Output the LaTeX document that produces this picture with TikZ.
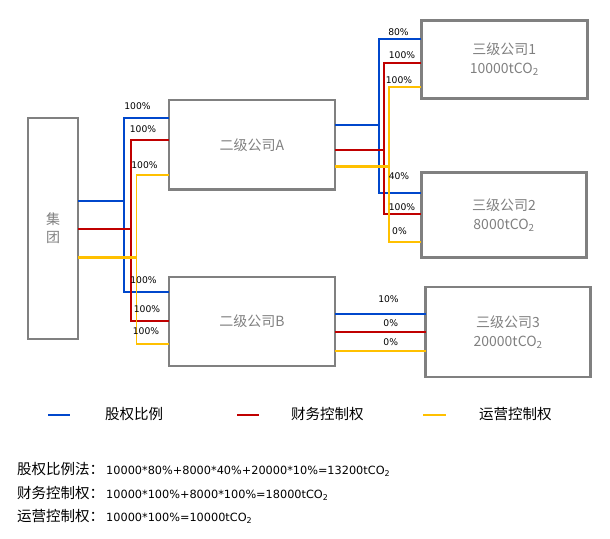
\documentclass[tikz,border=0pt]{standalone}
\usepackage{fontspec}
\setmainfont{DejaVu Sans}
\newfontfamily\cjk{Noto Sans CJK SC}
\definecolor{cb}{HTML}{0047CC}
\definecolor{cr}{HTML}{C00000}
\definecolor{cy}{HTML}{FFC000}
\definecolor{bgray}{HTML}{808080}
\begin{document}
\begin{tikzpicture}[x=1pt,y=-1pt,
  box/.style={draw=bgray, line width=2.7pt, inner sep=0pt, outer sep=0pt, anchor=north west,
              text=bgray, align=center, font=\cjk\fontsize{14}{19}\selectfont},
  bl/.style={draw=cb, line width=1.6pt},
  rd/.style={draw=cr, line width=1.6pt},
  yl/.style={draw=cy, line width=1.6pt},
  ylt/.style={draw=cy, line width=3pt},
  lab/.style={font=\fontsize{9.2}{10}\selectfont, inner sep=0pt, text=black},
  lgtext/.style={font=\cjk\fontsize{14.5}{16}\selectfont, inner sep=0pt, anchor=west, text=black},
  formula/.style={font=\fontsize{11.3}{13}\selectfont, inner sep=0pt, anchor=west, text=black}]
\useasboundingbox (0,0) rectangle (610,538);

% boxes
\node[box, minimum width=50pt, minimum height=221pt, font=\cjk\fontsize{14}{18}\selectfont] (jt) at (28,118) {集\\团};
\node[box, minimum width=166pt, minimum height=89.5pt] (A) at (169,100) {二级公司A};
\node[box, minimum width=166pt, minimum height=89pt] (B) at (169,277) {二级公司B};
\node[box, minimum width=166pt, minimum height=78pt] (C1) at (421.3,20.3) {三级公司1\\10000tCO\textsubscript{2}};
\node[box, minimum width=165.5pt, minimum height=85.5pt] (C2) at (421.3,172.3) {三级公司2\\8000tCO\textsubscript{2}};
\node[box, minimum width=165pt, minimum height=90pt] (C3) at (425.6,287) {三级公司3\\20000tCO\textsubscript{2}};

% trunk coordinates
\coordinate (tb) at (124,201);   \coordinate (tbA) at (124,118); \coordinate (tbB) at (124,292);
\coordinate (tr) at (131,229);   \coordinate (trA) at (131,140); \coordinate (trB) at (131,321);
\coordinate (ty) at (136.5,257); \coordinate (tyA) at (136.5,175); \coordinate (tyB) at (136.5,344);
\coordinate (ab) at (379,125);   \coordinate (abA) at (379,39);  \coordinate (abB) at (379,193);
\coordinate (ar) at (384,150);   \coordinate (arA) at (384,63);  \coordinate (arB) at (384,214);
\coordinate (ay) at (389,166);   \coordinate (ayA) at (389,87);  \coordinate (ayB) at (389,242);
\coordinate (cb3) at (380,314);  \coordinate (cr3) at (380,332); \coordinate (cy3) at (380,351);

% group -> A, B
\draw[bl] (jt.east |- tb) -- (tb);
\draw[bl] (A.west |- tbA) -- (tbA) -- (tbB) -- (B.west |- tbB);
\draw[rd] (jt.east |- tr) -- (tr);
\draw[rd] (A.west |- trA) -- (trA) -- (trB) -- (B.west |- trB);
\draw[ylt] (jt.east |- ty) -- (ty);
\draw[yl] (A.west |- tyA) -- (tyA) -- (tyB) -- (B.west |- tyB);

% A -> C1, C2
\draw[bl] (A.east |- ab) -- (ab);
\draw[bl] (C1.west |- abA) -- (abA) -- (abB) -- (C2.west |- abB);
\draw[rd] (A.east |- ar) -- (ar);
\draw[rd] (C1.west |- arA) -- (arA) -- (arB) -- (C2.west |- arB);
\draw[ylt] (A.east |- ay) -- (ay);
\draw[yl] (C1.west |- ayA) -- (ayA) -- (ayB) -- (C2.west |- ayB);

% B -> C3
\draw[bl] (B.east |- cb3) -- (C3.west |- cb3);
\draw[rd] (B.east |- cr3) -- (C3.west |- cr3);
\draw[yl] (B.east |- cy3) -- (C3.west |- cy3);

% labels
\node[lab] (l1) at (137.5,106) {100\%};
\node[lab] (l2) at (143,129) {100\%};
\node[lab] (l3) at (144.5,165) {100\%};
\node[lab] (l4) at (143.5,280) {100\%};
\node[lab] (l5) at (147,309) {100\%};
\node[lab] (l6) at (146,331) {100\%};
\node[lab] (l7) at (398.5,32) {80\%};
\node[lab] (l8) at (402,55) {100\%};
\node[lab] (l9) at (399,80) {100\%};
\node[lab] (l10) at (399,176) {40\%};
\node[lab] (l11) at (402,207) {100\%};
\node[lab] (l12) at (399.5,231) {0\%};
\node[lab] (l13) at (388.5,299) {10\%};
\node[lab] (l14) at (390.7,323) {0\%};
\node[lab] (l15) at (390.7,342) {0\%};

% legend
\coordinate (lg1a) at (48,415);  \coordinate (lg1b) at (70,415);
\coordinate (lg2a) at (237,415); \coordinate (lg2b) at (259,415);
\coordinate (lg3a) at (423,415); \coordinate (lg3b) at (446,415);
\draw[bl] (lg1a) -- (lg1b);
\draw[rd] (lg2a) -- (lg2b);
\draw[yl] (lg3a) -- (lg3b);
\node[lgtext] (t1) at (105,414) {股权比例};
\node[lgtext] (t2) at (291,414) {财务控制权};
\node[lgtext] (t3) at (479,414) {运营控制权};

% formulas
\node[formula] (f1) at (17,469) {{\cjk\fontsize{14.5}{16}\selectfont 股权比例法：}\hspace{2pt}10000*80\%+8000*40\%+20000*10\%=13200tCO\textsubscript{2}};
\node[formula] (f2) at (17,493) {{\cjk\fontsize{14.5}{16}\selectfont 财务控制权：}\hspace{2pt}10000*100\%+8000*100\%=18000tCO\textsubscript{2}};
\node[formula] (f3) at (17,516) {{\cjk\fontsize{14.5}{16}\selectfont 运营控制权：}\hspace{2pt}10000*100\%=10000tCO\textsubscript{2}};
\end{tikzpicture}
\end{document}
